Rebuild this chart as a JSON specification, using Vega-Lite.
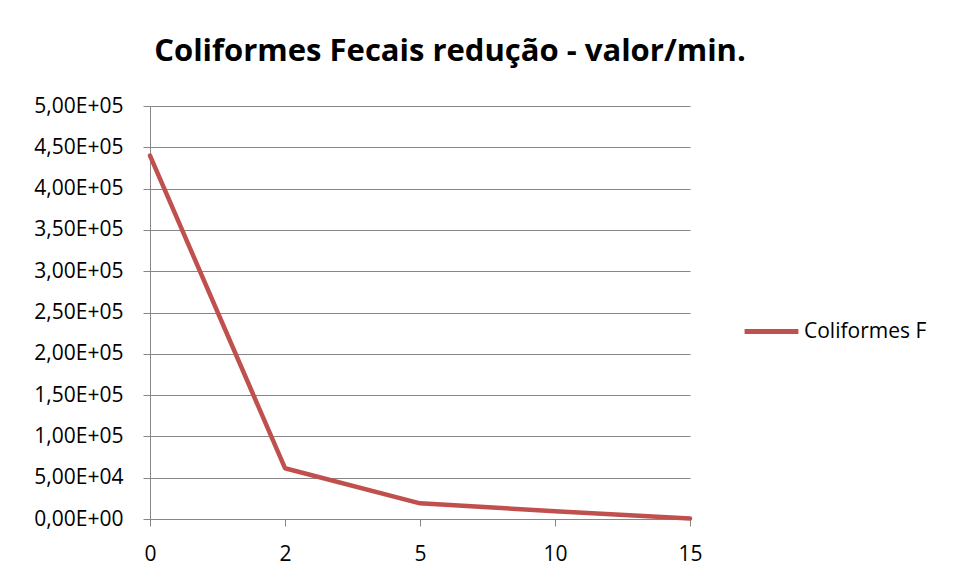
{
  "$schema": "https://vega.github.io/schema/vega-lite/v6.json",
  "width": 540,
  "height": 413,
  "autosize": {"type": "none"},
  "padding": {"left": 150, "top": 106, "right": 265, "bottom": 64},
  "background": "white",
  "title": {
    "text": "Coliformes Fecais redução - valor/min.",
    "font": "Open Sans",
    "fontSize": 31,
    "fontWeight": "bold",
    "color": "#000000",
    "anchor": "middle",
    "frame": "group",
    "dx": 30,
    "offset": 27
  },
  "data": {
    "values": [
      {"min": "0", "valor": 440000, "serie": "Coliformes F"},
      {"min": "2", "valor": 61500, "serie": "Coliformes F"},
      {"min": "5", "valor": 19000, "serie": "Coliformes F"},
      {"min": "10", "valor": 9500, "serie": "Coliformes F"},
      {"min": "15", "valor": 500, "serie": "Coliformes F"}
    ]
  },
  "mark": {"type": "line", "strokeWidth": 4.5, "strokeCap": "round", "strokeJoin": "round"},
  "encoding": {
    "x": {
      "field": "min",
      "type": "ordinal",
      "sort": null,
      "scale": {"type": "point", "padding": 0},
      "axis": {
        "title": null,
        "labelAngle": 0,
        "labelFont": "Open Sans",
        "labelFontSize": 21,
        "labelColor": "#000000",
        "labelPadding": 17,
        "domainColor": "#868686",
        "tickColor": "#868686",
        "tickSize": 7,
        "grid": false
      }
    },
    "y": {
      "field": "valor",
      "type": "quantitative",
      "scale": {"domain": [0, 500000], "nice": false},
      "axis": {
        "title": null,
        "values": [0, 50000, 100000, 150000, 200000, 250000, 300000, 350000, 400000, 450000, 500000],
        "labelExpr": "replace(replace(format(datum.value, '.2e'), '.', ','), 'e+', 'E+0')",
        "labelFont": "Open Sans",
        "labelFontSize": 21,
        "labelColor": "#000000",
        "labelPadding": 20,
        "domainColor": "#868686",
        "tickColor": "#868686",
        "tickSize": 7,
        "grid": true,
        "gridColor": "#868686",
        "gridWidth": 1
      }
    },
    "color": {
      "field": "serie",
      "type": "nominal",
      "scale": {"range": ["#C0504D"]},
      "legend": {
        "title": null,
        "orient": "none",
        "legendX": 592,
        "legendY": 196,
        "symbolType": "stroke",
        "symbolSize": 2900,
        "symbolStrokeWidth": 5,
        "labelFont": "Open Sans",
        "labelFontSize": 21,
        "labelColor": "#000000",
        "labelOffset": 3
      }
    }
  },
  "config": {"view": {"stroke": null}}
}
